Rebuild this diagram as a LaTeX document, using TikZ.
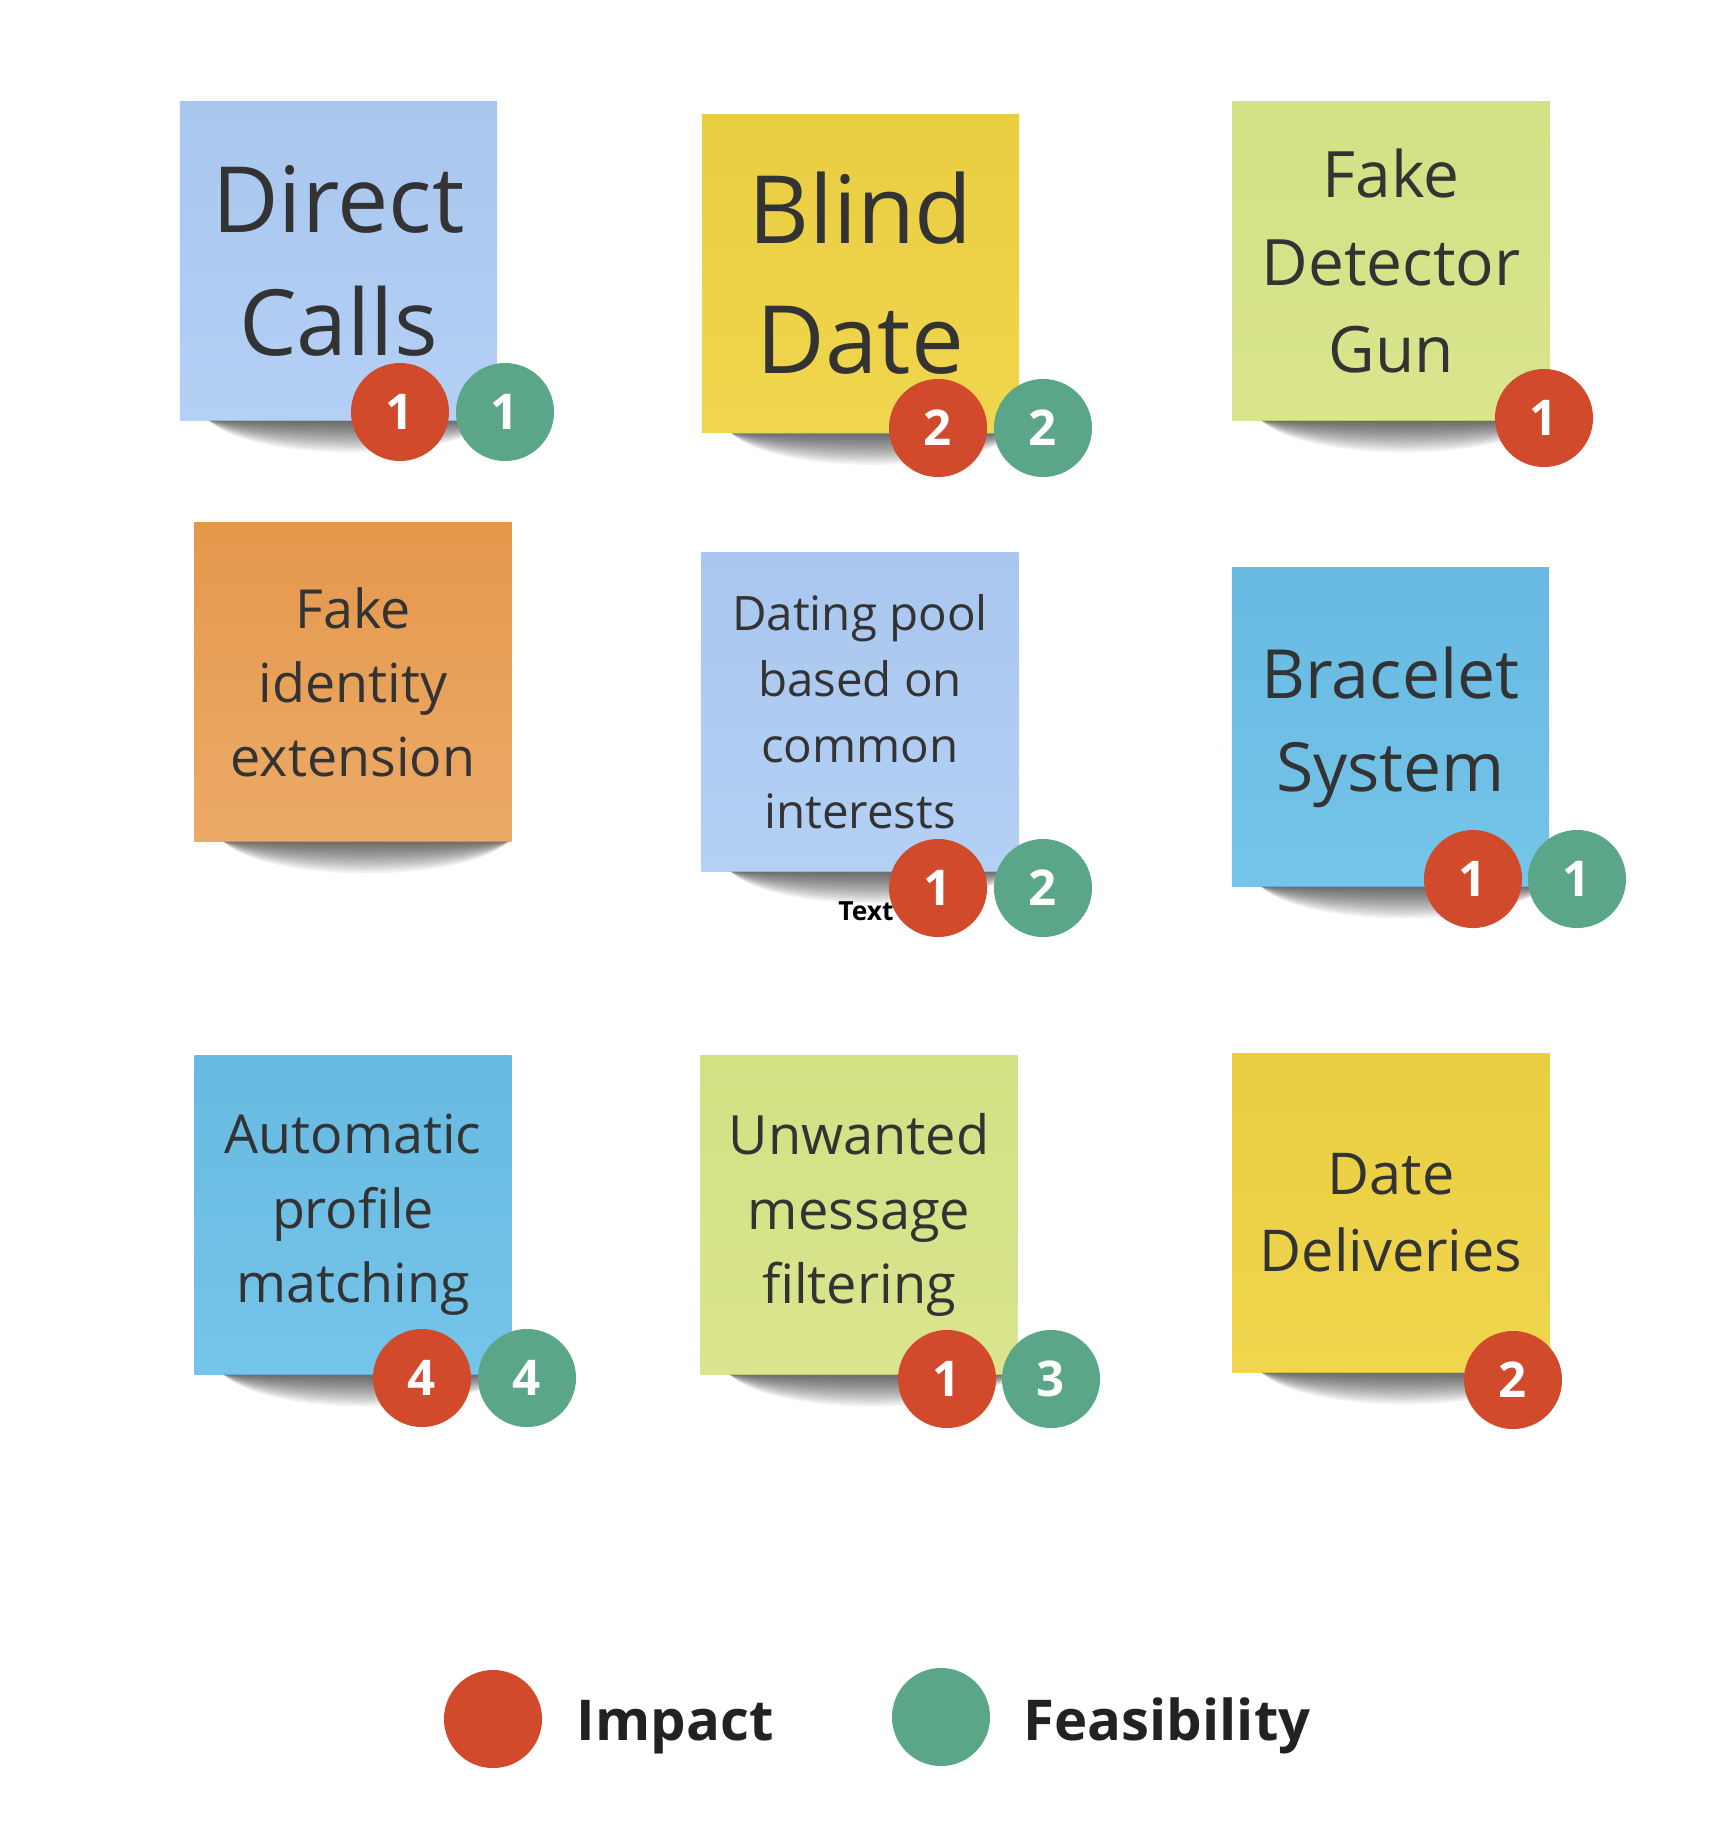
\documentclass[tikz,border=0pt]{standalone}
\usepackage{fontspec}
\setmainfont{Open Sans}
\usetikzlibrary{calc}

\definecolor{ink}{HTML}{333333}
\definecolor{impred}{HTML}{D24A2C}
\definecolor{feasgreen}{HTML}{5BA688}

\begin{document}
\begin{tikzpicture}[
  x=0.01cm, y=-0.01cm,
  note/.style={minimum width=3.17cm, minimum height=3.18cm, inner sep=0pt,
               align=center, text=ink},
  paleblue/.style={top color={rgb,255:red,169;green,198;blue,238}, bottom color={rgb,255:red,180;green,208;blue,245}},
  yellow/.style={top color={rgb,255:red,233;green,206;blue,66}, bottom color={rgb,255:red,240;green,214;blue,78}},
  lime/.style={top color={rgb,255:red,211;green,224;blue,132}, bottom color={rgb,255:red,218;green,229;blue,142}},
  orange/.style={top color={rgb,255:red,228;green,152;blue,76}, bottom color={rgb,255:red,236;green,170;blue,103}},
  skyblue/.style={top color={rgb,255:red,104;green,186;blue,226}, bottom color={rgb,255:red,117;green,196;blue,233}},
  imp/.style={circle, fill=impred, minimum size=0.98cm, inner sep=0pt, text=white,
              font=\fontsize{14}{14}\selectfont\bfseries},
  feas/.style={imp, fill=feasgreen},
  curl/.style={black, opacity=0.055},
  legend/.style={anchor=base west, inner sep=0pt, text={rgb,255:red,34;green,34;blue,34},
                 font=\fontsize{16}{18}\selectfont\bfseries}
]
\useasboundingbox[fill=white] (0,0) rectangle (1728,1821);

% top row
\node[note, paleblue, font=\fontsize{26}{35}\selectfont] (direct) at (338.5,261)
  {Direct\\Calls};
\node[note, yellow, font=\fontsize{26.8}{37}\selectfont] (blind) at (860.5,273.5)
  {Blind\\Date};
\node[note, lime, font=\fontsize{18.2}{24.8}\selectfont] (detector) at (1391,261)
  {Fake\\Detector\\Gun};

% middle row
\node[note, orange, font=\fontsize{15.3}{21}\selectfont] (identity) at (353,682)
  {Fake\\identity\\extension};
\node[note, paleblue, font=\fontsize{13.5}{18.8}\selectfont] (pool) at (860,712)
  {Dating pool\\based on\\common\\interests};
\node[note, skyblue, font=\fontsize{19.3}{26.5}\selectfont] (bracelet) at (1390.5,727)
  {Bracelet\\System};

% bottom row
\node[note, skyblue, font=\fontsize{15.3}{21.2}\selectfont] (automatic) at (353,1215)
  {Automatic\\profile\\matching};
\node[note, lime, font=\fontsize{15.4}{21.2}\selectfont] (unwanted) at (859,1215)
  {Unwanted\\message\\filtering};
\node[note, yellow, font=\fontsize{16.4}{21.8}\selectfont] (deliveries) at (1391,1213)
  {Date\\Deliveries};

% curled shadows under the notes
\foreach \n in {direct,blind,detector,identity,pool,bracelet,automatic,unwanted,deliveries}
  \foreach \d in {3,6,...,42}
    \fill[curl] ($(\n.south west)+(30,0)$) .. controls +(45,\d) and +(-45,\d) ..
      ($(\n.south east)+(-4,0)$) -- cycle;

% scores
\node[imp]  (direct-i)     at (400,412)   {1};
\node[feas] (direct-f)     at (505,412)   {1};
\node[imp]  (blind-i)      at (938,428)   {2};
\node[feas] (blind-f)      at (1043,428)  {2};
\node[imp]  (detector-i)   at (1544,418)  {1};
\node[imp]  (pool-i)       at (938,888)   {1};
\node[feas] (pool-f)       at (1043,888)  {2};
\node[imp]  (bracelet-i)   at (1473,879)  {1};
\node[feas] (bracelet-f)   at (1577,879)  {1};
\node[imp]  (automatic-i)  at (422,1378)  {4};
\node[feas] (automatic-f)  at (527,1378)  {4};
\node[imp]  (unwanted-i)   at (947,1379)  {1};
\node[feas] (unwanted-f)   at (1051,1379) {3};
\node[imp]  (deliveries-i) at (1513,1380) {2};

\node[anchor=base, inner sep=0pt, font=\fontsize{7.5}{8}\selectfont\bfseries] (stray)
  at (866,920) {Text};

% legend
\node[imp]  (key-i) at (493,1719) {};
\node[legend] (key-i-txt) at (576,1740) {Impact};
\node[feas] (key-f) at (941,1717) {};
\node[legend] (key-f-txt) at (1023,1740) {Feasibility};

\end{tikzpicture}
\end{document}
